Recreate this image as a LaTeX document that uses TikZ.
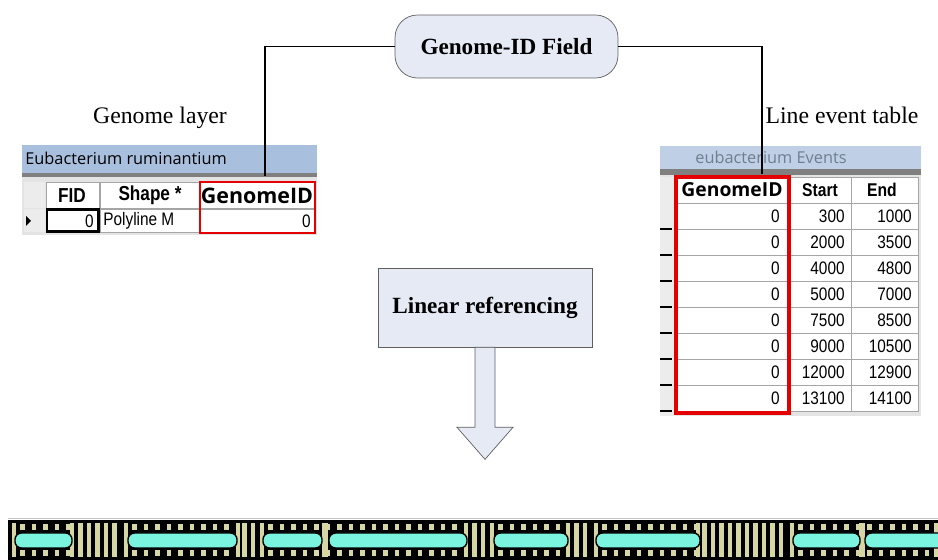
\documentclass[tikz,border=0pt]{standalone}
\usepackage{fontspec}
\setmainfont{Liberation Serif}
\newfontfamily\winfont{Open Sans}
\newfontfamily\gridfont[FakeStretch=0.85]{Liberation Sans}
\usetikzlibrary{positioning}
\definecolor{boxFill}{RGB}{229,234,245}
\definecolor{boxLine}{RGB}{95,95,95}
\definecolor{barBlue}{RGB}{168,191,222}
\definecolor{barBlue2}{RGB}{190,207,230}
\definecolor{gridLine}{RGB}{165,165,165}
\definecolor{selGray}{RGB}{236,236,236}
\definecolor{tableGray}{RGB}{228,228,228}
\definecolor{bandGray}{RGB}{128,128,128}
\definecolor{titleGray}{RGB}{112,126,142}
\definecolor{khaki}{RGB}{214,214,164}
\definecolor{aqua}{RGB}{122,244,222}
\colorlet{penColor}{red!90!black}
\tikzset{
  fieldbox/.style={draw=boxLine,fill=boxFill,rounded corners=0.45cm,
    minimum width=4.46cm,minimum height=1.26cm,
    font=\fontsize{13.2}{15}\selectfont\bfseries},
  refbox/.style={draw=boxLine,fill=boxFill,
    minimum width=4.28cm,minimum height=1.58cm,
    font=\fontsize{13.2}{15}\selectfont\bfseries},
  caption/.style={font=\fontsize{13.5}{15}\selectfont},
  wintitle/.style={inner sep=0pt,font=\winfont\fontsize{9.3}{11}\selectfont},
  colhead/.style={inner sep=0pt,font=\gridfont\bfseries\fontsize{10.5}{12}\selectfont},
  idhead/.style={inner sep=0pt,font=\winfont\bfseries\fontsize{11}{13}\selectfont},
  num/.style={inner sep=0pt,anchor=east,font=\gridfont\fontsize{10.3}{12}\selectfont},
  cell/.style={draw=gridLine,fill=white},
  pill/.style={fill=aqua,draw=black,line width=0.8pt,rounded corners=0.13cm},
}

\begin{document}
\begin{tikzpicture}[x=0.02cm,y=-0.02cm]
  \useasboundingbox (0,0) rectangle (938,560);

  % field box and captions
  \node [fieldbox] (field) at (506.5,46.5) {Genome-ID Field};
  \node [caption] (glayer) at (160,118) {Genome layer};
  \node [caption] (letable) at (842,115) {Line event table};

  %% genome layer table
  \fill [tableGray] (22,173) rectangle (317,235);
  \fill [barBlue] (22,145) rectangle (317,173);
  \fill [bandGray] (22,173) rectangle (317,177);
  \node [wintitle,anchor=west] (ltitle) at (25,158) {Eubacterium ruminantium};
  \fill [selGray] (24,182) rectangle (45,208);
  \fill [selGray] (24,209) rectangle (45,232);
  \fill (26,216) -- (31,221) -- (26,226) -- cycle;
  \draw [cell] (46,182) rectangle (99,208);
  \draw [cell] (100,182) rectangle (200,208);
  \draw [cell] (200,182) rectangle (315,208);
  \draw [cell] (100,209) rectangle (200,232);
  \draw [cell] (200,209) rectangle (315,232);
  \draw [line width=1.2pt,fill=white] (47,209.5) rectangle (98.5,231.5);
  \node [colhead,font=\gridfont\bfseries\fontsize{11.5}{13}\selectfont] (fid) at (72,196) {FID};
  \node [colhead,font=\gridfont\bfseries\fontsize{11.5}{13}\selectfont] (shape) at (150,195) {Shape *};
  \node [idhead,font=\winfont\bfseries\fontsize{12.2}{14}\selectfont] (lgid) at (257,196) {GenomeID};
  \node [num] (fidval) at (94,221) {0};
  \node [num,anchor=west] (shapeval) at (103,221) {Polyline M};
  \node [num] (lgidval) at (311,221) {0};
  \draw [penColor,line width=1pt] (200,182) rectangle (315,233);

  %% line event table
  \fill [tableGray] (660,169) rectangle (921,416);
  \fill [barBlue2] (660,146) rectangle (921,169);
  \fill [bandGray] (660,169) rectangle (921,175);
  \node [wintitle,text=titleGray] (rtitle) at (771,157) {eubacterium Events};
  \fill [selGray] (660,177) rectangle (675,416);
  \draw [cell] (676,177) rectangle (789,203);
  \draw [cell] (789,177) rectangle (851,203);
  \draw [cell] (851,177) rectangle (918,203);
  \node [idhead] (rgid) at (732,190) {GenomeID};
  \node [colhead] (start) at (820,190) {Start};
  \node [colhead] (end) at (882,190) {End};
  \foreach \sv/\ev [count=\k from 0] in {300/1000,2000/3500,4000/4800,5000/7000,
      7500/8500,9000/10500,12000/12900,13100/14100} {
    \pgfmathsetmacro{\ya}{203+26*\k}
    \draw [cell] (676,\ya) rectangle (789,\ya+26);
    \draw [cell] (789,\ya) rectangle (851,\ya+26);
    \draw [cell] (851,\ya) rectangle (918,\ya+26);
    \node [num] (gid-\k) at (780,\ya+13) {0};
    \node [num] (st-\k) at (845,\ya+13) {\sv};
    \node [num] (en-\k) at (912,\ya+13) {\ev};
    \draw [line width=1.1pt] (660,\ya+26) -- (672,\ya+26);
  }
  \draw [penColor,line width=1.8pt] (676,177) rectangle (789,413);

  % links from the field box
  \coordinate (ltip) at (265,176);
  \coordinate (rtip) at (762,174);
  \draw [line width=0.6pt] (field.west) -| (ltip);
  \draw [line width=0.6pt] (field.east) -| (rtip);

  % linear referencing step
  \node [refbox] (lref) at (485,307.5) {Linear referencing};
  \draw [draw=boxLine,fill=boxFill] (lref.south) ++(-10,0) -- ++(0,80) -- ++(-18,0)
    -- ++(28,32) -- ++(28,-32) -- ++(-18,0) -- ++(0,-80) -- cycle;

  %% genome strip
  \draw [gray!45,line width=0.8pt] (8,518.5) -- (938,518.5);
  \fill [black] (8,520) rectangle (938,560);
  \begin{scope}
    \clip (8,520) rectangle (938,560);
    % stretches with features: dotted rows
    \foreach \xa/\xb in {12/74,124/240,260/468,490/570,594/700,790/938} {
      \fill [khaki] (\xa,523) rectangle ++(4,34);
      \fill [khaki] (\xb-4,523) rectangle ++(4,34);
      \pgfmathtruncatemacro{\n}{(\xb-\xa-14)/11.5}
      \foreach \j in {0,...,\n} {
        \fill [khaki] ({\xa+8+11.5*\j},524.5) rectangle ++(4.5,6);
        \fill [khaki] ({\xa+8+11.5*\j},550.5) rectangle ++(4.5,6);
      }
    }
    % empty stretches: vertical bars
    \foreach \xa/\xb in {76/124,240/258,470/490,572/594,700/790} {
      \pgfmathtruncatemacro{\n}{(\xb-\xa-6)/8.5}
      \foreach \j in {0,...,\n}
        \fill [khaki] ({\xa+2+8.5*\j},523) rectangle ++(4.5,34);
    }
    \fill [khaki] (322,523) rectangle (328,557);
    \fill [khaki] (859,523) rectangle (865,557);
    % mapped events
    \foreach \xa/\xb in {15/72,128/237,263/322,329/467,494/568,596/700,793/860,865/950}
      \draw [pill] (\xa,533) rectangle (\xb,548);
  \end{scope}
\end{tikzpicture}
\end{document}
